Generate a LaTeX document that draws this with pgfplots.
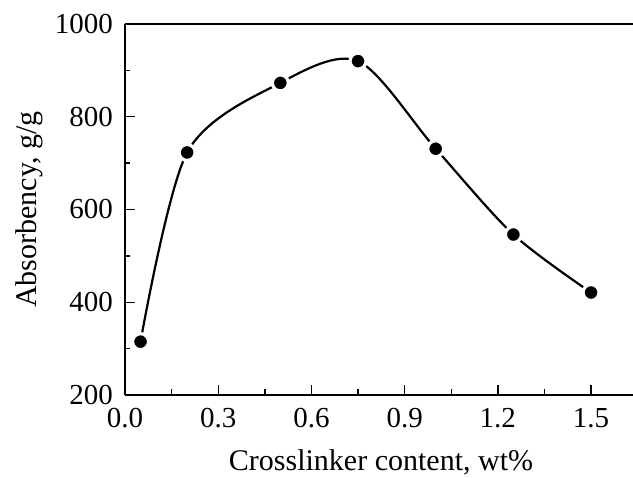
\documentclass[border=0pt]{standalone}
\usepackage{fontspec}
\setmainfont{Liberation Serif}
\usepackage{pgfplots}
\pgfplotsset{compat=1.18}

% Absorbency vs. crosslinker content
\pgfplotstableread{
x     y
0.05  315
0.20  723
0.50  873
0.75  920
1.00  731
1.25  546
1.50  421
}\absorbency

\begin{document}
\begin{tikzpicture}[x=1pt,y=1pt]
\useasboundingbox (-125pt,-83pt) rectangle (508pt,395pt);
\begin{axis}[
  scale only axis,
  width=508pt, height=371pt,
  xmin=0, xmax=1.635,
  ymin=200, ymax=1000,
  axis x line*=bottom,
  axis y line*=left,
  axis line style={-, line width=1.6pt, black},
  xtick={0,0.3,...,1.5},
  minor xtick={0.15,0.45,...,1.35},
  ytick={200,400,...,1000},
  minor ytick={300,500,...,900},
  xticklabels={0.0,0.3,0.6,0.9,1.2,1.5},
  yticklabel={\pgfmathprintnumber[1000 sep={}]{\tick}},
  tick align=inside,
  major tick length=10pt,
  minor tick length=5.5pt,
  every tick/.style={black, line width=1.4pt},
  /pgf/number format/assume math mode=true,
  ticklabel style={font=\fontsize{29}{34}\selectfont},
  xticklabel style={anchor=north, inner sep=0pt, yshift=-13pt},
  yticklabel style={anchor=east, inner sep=0pt, xshift=-12pt},
  every axis x label/.style={at={(axis description cs:0.504,-0.203)}, anchor=base},
  every axis y label/.style={at={(axis description cs:-0.175,0.5)}, rotate=90, anchor=base},
  label style={font=\fontsize{30}{36}\selectfont},
  xlabel={Crosslinker content, wt\%},
  ylabel={Absorbency, g/g},
  clip=false,
]
% top frame line; the right edge of the frame stays open
\draw[line width=1.6pt, black] (rel axis cs:0,1) -- (rel axis cs:1,1);
\addplot[black, line width=2.2pt, smooth, tension=0.5,
  mark=*, mark size=8pt,
  mark options={fill=black, draw=white, line width=3.2pt}]
  table[x=x, y=y] {\absorbency};
\end{axis}
\end{tikzpicture}
\end{document}
